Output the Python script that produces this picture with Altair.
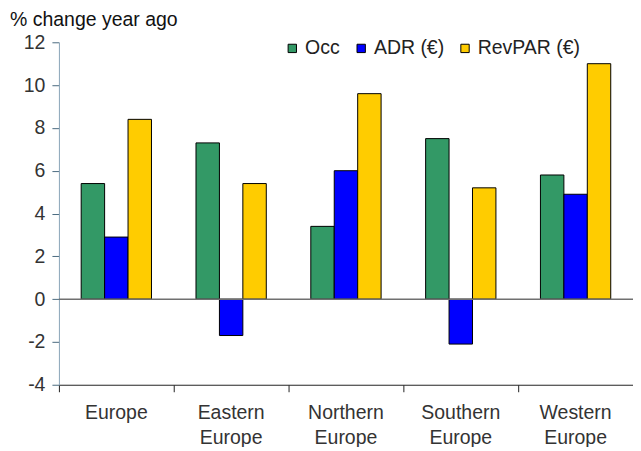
import altair as alt
import pandas as pd

regions = ["Europe", "Eastern Europe", "Northern Europe", "Southern Europe", "Western Europe"]
series = ["Occ", "ADR (€)", "RevPAR (€)"]
occ = [5.4, 7.3, 3.4, 7.5, 5.8]
adr = [2.9, -1.7, 6.0, -2.1, 4.9]
revpar = [8.4, 5.4, 9.6, 5.2, 11.0]
colors = ["#339966", "#0000FF", "#FFCC00"]
y_ticks = [-4, -2, 0, 2, 4, 6, 8, 10, 12]

rows = []
for i, r in enumerate(regions):
    for s, vals in zip(series, [occ, adr, revpar]):
        rows.append({"region": r, "series": s, "value": vals[i]})
df = pd.DataFrame(rows)

FONT = "Liberation Sans"
FS = 19.5

bars = alt.Chart(df).mark_bar(stroke="black", strokeWidth=1).encode(
    x=alt.X("region:N", sort=regions, title=None,
            scale=alt.Scale(paddingInner=0, paddingOuter=0),
            axis=alt.Axis(labelAngle=0, bandPosition=0, labelExpr="split(datum.label, ' ')",
                          labelFontSize=FS, labelFont=FONT, labelColor="#333333",
                          labelPadding=12, labelLineHeight=25, tickSize=7,
                          domainColor="#222222", tickColor="#222222", grid=False)),
    xOffset=alt.XOffset("series:N", sort=series,
                        scale=alt.Scale(paddingInner=0, paddingOuter=0.95)),
    y=alt.Y("value:Q", title=None,
            scale=alt.Scale(domain=[-4, 12], nice=False, zero=False),
            axis=alt.Axis(values=y_ticks, labelExpr="toString(datum.value)",
                          labelFontSize=FS, labelFont=FONT, labelColor="#333333",
                          labelPadding=7, tickSize=7, domainColor="#8aa4b8", tickColor="#4a6a80",
                          grid=False)),
    color=alt.Color("series:N", sort=series,
                    scale=alt.Scale(domain=series, range=colors),
                    legend=alt.Legend(title=None, orient="none", direction="horizontal",
                                      legendX=224, legendY=-4, symbolType="square",
                                      symbolSize=70, symbolStrokeColor="black",
                                      symbolStrokeWidth=1, labelFontSize=FS, labelFont=FONT,
                                      labelColor="#222222", labelOffset=3, columnPadding=11,
                                      padding=0)),
)

zero = alt.Chart(pd.DataFrame({"v": [0]})).mark_rule(color="#707070", strokeWidth=1.5).encode(
    y=alt.Y("v:Q")
)

chart = alt.layer(bars, zero).properties(
    width=575, height=343,
    padding={"left": 51, "top": 34, "right": 0, "bottom": 62},
    autosize=alt.AutoSizeParams(type="none"),
    title=alt.TitleParams("% change year ago", anchor="start", frame="group", dx=-49, offset=2,
                          fontSize=FS, font=FONT, fontWeight="normal", color="#111111"),
).configure_view(stroke=None)

chart.save("out.html", embed_options={"renderer": "svg", "actions": False})
